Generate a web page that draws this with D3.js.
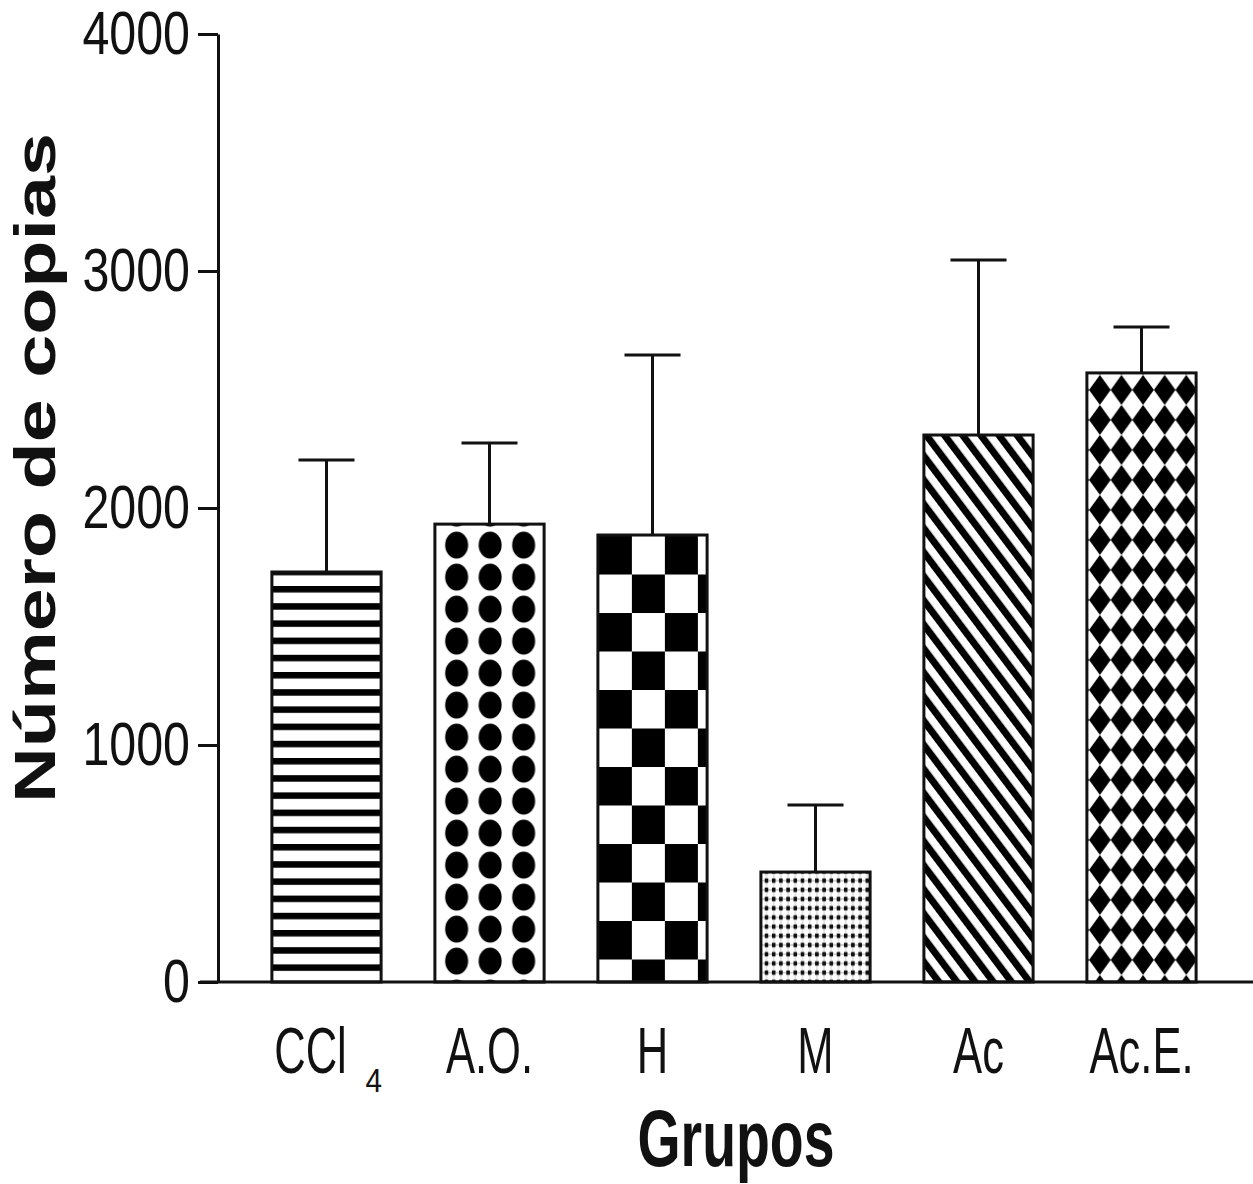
<!DOCTYPE html>
<html>
<head>
<meta charset="utf-8">
<script src="https://cdn.jsdelivr.net/npm/d3@7"></script>
<style>
  body { margin: 0; background: #fff; }
</style>
</head>
<body>
<div id="chart"></div>
<script>
// data
const groups = ["CCl", "A.O.", "H", "M", "Ac", "Ac.E."];
const subscripts = ["4", "", "", "", "", ""];
const means = [1730, 1932, 1886, 464, 2308, 2570];
const errors = [473, 342, 760, 283, 738, 194];
const yTicks = [0, 1000, 2000, 3000, 4000];

const width = 1253, height = 1184;
const font = "'Liberation Sans', Arial, sans-serif";

const svg = d3.select("#chart")
  .append("svg")
  .attr("width", width)
  .attr("height", height)
  .style("display", "block");

const x = d3.scaleBand()
  .domain(groups)
  .range([245, 1223])
  .paddingInner(0.33)
  .paddingOuter(0.165);

const y = d3.scaleLinear()
  .domain([0, 4000])
  .range([982, 34]);

const defs = svg.append("defs");
const bw = x.bandwidth();

// 1 horizontal stripes
const p0 = defs.append("pattern").attr("id", "pat0")
  .attr("patternUnits", "userSpaceOnUse")
  .attr("x", x(groups[0])).attr("y", y(means[0]) + 14)
  .attr("width", 40).attr("height", 17.2);
p0.append("rect").attr("width", 40).attr("height", 6.5).attr("fill", "#000");

// 2 big dots
const p1 = defs.append("pattern").attr("id", "pat1")
  .attr("patternUnits", "userSpaceOnUse")
  .attr("x", x(groups[1]) + 5).attr("y", y(means[1]) + 5)
  .attr("width", 33.5).attr("height", 32);
p1.append("ellipse").attr("cx", 16.75).attr("cy", 16).attr("rx", 11.5).attr("ry", 13.5).attr("fill", "#000");

// 3 checkerboard
const p2 = defs.append("pattern").attr("id", "pat2")
  .attr("patternUnits", "userSpaceOnUse")
  .attr("x", x(groups[2]) + 1).attr("y", y(means[2]) + 1)
  .attr("width", 66).attr("height", 77);
p2.append("rect").attr("width", 33).attr("height", 38.5).attr("fill", "#000");
p2.append("rect").attr("x", 33).attr("y", 38.5).attr("width", 33).attr("height", 38.5).attr("fill", "#000");

// 4 fine dotted grid
const p3 = defs.append("pattern").attr("id", "pat3")
  .attr("patternUnits", "userSpaceOnUse")
  .attr("x", x(groups[3]) + 2).attr("y", y(means[3]) + 4)
  .attr("width", 7.2).attr("height", 9.2);
p3.append("rect").attr("y", 4.1).attr("width", 7.2).attr("height", 1).attr("fill", "#aaa");
p3.append("rect").attr("x", 3.1).attr("width", 1).attr("height", 9.2).attr("fill", "#ccc");
p3.append("rect").attr("x", 1.8).attr("y", 2.4).attr("width", 3.6).attr("height", 4.4).attr("fill", "#111");

// 5 diagonal stripes
const p4 = defs.append("pattern").attr("id", "pat4")
  .attr("patternUnits", "userSpaceOnUse")
  .attr("x", x(groups[4])).attr("y", y(means[4]))
  .attr("width", 14.5).attr("height", 40)
  .attr("patternTransform", "rotate(-37)");
p4.append("rect").attr("width", 7).attr("height", 40).attr("fill", "#000");

// 6 diamonds
const p5 = defs.append("pattern").attr("id", "pat5")
  .attr("patternUnits", "userSpaceOnUse")
  .attr("x", x(groups[5]) + 2.2).attr("y", y(means[5]) + 2)
  .attr("width", 21.6).attr("height", 30);
p5.append("polygon").attr("points", "10.8,0 21.6,15 10.8,30 0,15").attr("fill", "#000");

// bars
const bars = svg.selectAll("g.bar")
  .data(groups)
  .join("g")
  .attr("class", "bar");

// error bars
bars.append("line")
  .attr("x1", d => x(d) + bw / 2)
  .attr("x2", d => x(d) + bw / 2)
  .attr("y1", (d, i) => y(means[i]))
  .attr("y2", (d, i) => y(means[i] + errors[i]))
  .attr("stroke", "#111")
  .attr("stroke-width", 3);

bars.append("line")
  .attr("x1", d => x(d) + bw / 2 - 28)
  .attr("x2", d => x(d) + bw / 2 + 28)
  .attr("y1", (d, i) => y(means[i] + errors[i]))
  .attr("y2", (d, i) => y(means[i] + errors[i]))
  .attr("stroke", "#111")
  .attr("stroke-width", 3);

bars.append("rect")
  .attr("x", d => x(d))
  .attr("y", (d, i) => y(means[i]))
  .attr("width", bw)
  .attr("height", (d, i) => y(0) - y(means[i]))
  .attr("fill", (d, i) => `url(#pat${i})`)
  .attr("stroke", "#111")
  .attr("stroke-width", 3);

// y axis
const yAxis = svg.append("g")
  .attr("transform", "translate(218,0)")
  .call(d3.axisLeft(y)
    .tickValues(yTicks)
    .tickFormat(d3.format("d"))
    .tickSize(20)
    .tickSizeOuter(0)
    .tickPadding(8));

yAxis.select(".domain").attr("stroke", "#111").attr("stroke-width", 3);
yAxis.selectAll(".tick line").attr("stroke", "#111").attr("stroke-width", 3);
yAxis.selectAll(".tick text")
  .style("font-family", font)
  .style("font-size", "62px")
  .attr("fill", "#111")
  .each(function () {
    const w = this.getComputedTextLength();
    d3.select(this).attr("textLength", w * 0.78).attr("lengthAdjust", "spacingAndGlyphs");
  });

// x axis line
svg.append("line")
  .attr("x1", 200).attr("x2", width)
  .attr("y1", y(0)).attr("y2", y(0))
  .attr("stroke", "#111")
  .attr("stroke-width", 3);

// x labels
const labels = svg.selectAll("g.xlab")
  .data(groups)
  .join("g")
  .attr("class", "xlab");

labels.append("text")
  .text(d => d)
  .attr("x", (d, i) => x(d) + bw / 2 - (subscripts[i] ? 16 : 0))
  .attr("y", 1073)
  .attr("text-anchor", "middle")
  .style("font-family", font)
  .style("font-size", "65px")
  .attr("fill", "#111")
  .each(function () {
    const w = this.getComputedTextLength();
    d3.select(this).attr("textLength", w * 0.67).attr("lengthAdjust", "spacingAndGlyphs");
  });

labels.filter((d, i) => subscripts[i])
  .append("text")
  .text(d => subscripts[groups.indexOf(d)])
  .attr("x", d => x(d) + bw / 2 + 39)
  .attr("y", 1092)
  .style("font-family", font)
  .style("font-size", "33px")
  .attr("fill", "#111")
  .each(function () {
    const w = this.getComputedTextLength();
    d3.select(this).attr("textLength", w * 0.9).attr("lengthAdjust", "spacingAndGlyphs");
  });

// axis titles
svg.append("text")
  .text("Grupos")
  .attr("x", 736)
  .attr("y", 1166)
  .attr("text-anchor", "middle")
  .attr("textLength", 197)
  .attr("lengthAdjust", "spacingAndGlyphs")
  .style("font-family", font)
  .style("font-weight", "bold")
  .style("font-size", "80px")
  .attr("fill", "#111");

svg.append("text")
  .text("Número de copias")
  .attr("transform", "translate(55,468) rotate(-90)")
  .attr("text-anchor", "middle")
  .attr("textLength", 670)
  .attr("lengthAdjust", "spacingAndGlyphs")
  .style("font-family", font)
  .style("font-weight", "bold")
  .style("font-size", "58px")
  .attr("fill", "#111");
</script>
</body>
</html>
